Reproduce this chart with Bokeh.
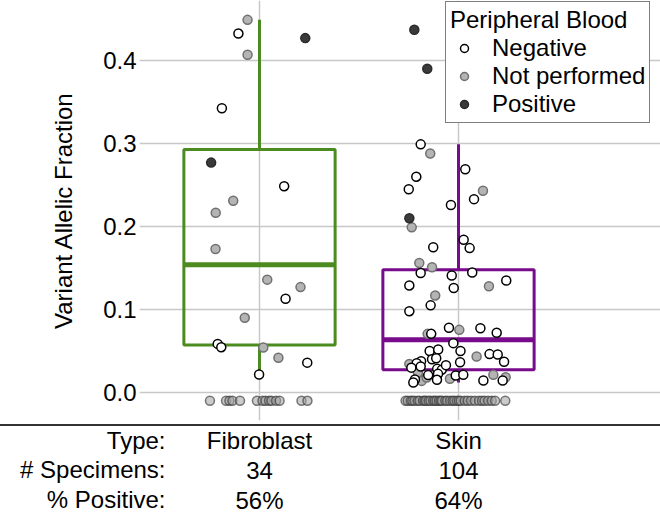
from bokeh.plotting import figure
from bokeh.models import (Range1d, FixedTicker, PrintfTickFormatter, Legend, LegendItem,
                          ColumnDataSource, Div)
from bokeh.layouts import column
from bokeh.embed import file_html
from bokeh.resources import INLINE
from bokeh.core.properties import value

# ---------------- data ----------------
categories = ["Fibroblast", "Skin"]
n_specimens = ["34", "104"]
pct_positive = ["56%", "64%"]
row_labels = ["Type:", "# Specimens:", "% Positive:"]
y_ticks = [0.0, 0.1, 0.2, 0.3, 0.4]

# box-plot statistics per category
box_q1 = [0.0574, 0.0273]
box_med = [0.154, 0.0635]
box_q3 = [0.2928, 0.148]
whisk_lo = [0.0217, 0.012]
whisk_hi = [0.449, 0.299]

zero_value = -0.01  # undetected specimens are drawn just below zero

# Fibroblast (category 0): jitter offset, VAF
fib_neg_off = [-0.106, -0.189, 0.124, 0.131, -0.210, -0.192, 0.240, -0.002]
fib_neg_vaf = [0.4325, 0.3425, 0.2486, 0.113, 0.0586, 0.0546, 0.036, 0.0217]
fib_np_off = [-0.060, -0.060, -0.132, -0.220, -0.221, 0.039, 0.206, -0.074, 0.019, 0.095]
fib_np_vaf = [0.449, 0.407, 0.231, 0.2165, 0.173, 0.136, 0.127, 0.090, 0.0542, 0.0418]
fib_pos_off = [0.230, -0.243]
fib_pos_vaf = [0.427, 0.277]
fib_zero_off = [-0.249, -0.168, -0.151, -0.136, -0.098, -0.013, 0.015, 0.030, 0.048,
                0.060, 0.083, 0.101, 0.211, 0.241]

# Skin (category 1)
skin_neg_off = [-0.190, 0.034, -0.212, -0.250, 0.078, -0.038, 0.026, 0.056, -0.127, -0.190,
                -0.034, 0.069, 0.240, -0.247, -0.024, -0.140, -0.247, -0.048, 0.110, 0.192,
                -0.137, -0.026, -0.145, -0.102, 0.010, 0.156, 0.197, 0.229, -0.133, -0.112,
                0.008, -0.188, -0.210, -0.237, -0.190, -0.107, -0.084, -0.103, -0.152, -0.014,
                0.024, -0.219, -0.227, -0.108, 0.125, 0.222, -0.063]
skin_neg_vaf = [0.299, 0.269, 0.260, 0.245, 0.233, 0.226, 0.184, 0.174, 0.175, 0.144,
                0.141, 0.1446, 0.135, 0.129, 0.126, 0.105, 0.098, 0.078, 0.0775, 0.072,
                0.0707, 0.0595, 0.050, 0.0518, 0.050, 0.0463, 0.0458, 0.037, 0.040, 0.0413,
                0.0365, 0.0377, 0.0353, 0.0300, 0.0313, 0.0285, 0.0273, 0.0225, 0.0210, 0.0205,
                0.0213, 0.0157, 0.012, 0.0153, 0.0145, 0.0145, 0.033]
skin_np_off = [-0.142, 0.123, -0.235, -0.197, -0.133, 0.153, -0.117, 0.004, -0.155, 0.091,
               -0.247, -0.043, -0.185, 0.175, 0.237, -0.160, -0.204]
skin_np_vaf = [0.288, 0.243, 0.199, 0.156, 0.151, 0.128, 0.117, 0.0755, 0.0707, 0.0435,
               0.0345, 0.0165, 0.0140, 0.0213, 0.0185, 0.0180, 0.0240]
skin_pos_off = [-0.222, -0.157, -0.247]
skin_pos_vaf = [0.437, 0.390, 0.210]
skin_zero_off = [-0.266, -0.255, -0.240, -0.232, -0.221, -0.205, -0.196, -0.178, -0.170,
                 -0.163, -0.150, -0.141, -0.127, -0.119, -0.110, -0.098, -0.090, -0.083,
                 -0.066, -0.057, -0.042, -0.030, -0.021, -0.008, 0.002, 0.011, 0.031,
                 0.046, 0.063, 0.082, 0.103, 0.118, 0.131, 0.149, 0.167, 0.184, 0.235]

# ---------------- styling / layout ----------------
FONT = "Liberation Sans"
FS = "24px"
box_colors = ["#4b8b1f", "#780a8c"]
box_width = 0.76

W = 660
TOP_H = 424
LINE_H = 2
BOT_H = 91
FRAME_L = 139       # left edge of the plotting frame
GRID_R = 578        # right end of the horizontal grid lines
BORDER_B = 4
X0, X1 = -0.603, 1.603          # span covered by the grid
Y0, Y1 = -0.0337, 0.4723
x_end = X0 + (W - FRAME_L) * (X1 - X0) / (GRID_R - FRAME_L)
xr = Range1d(X0, x_end)

p = figure(width=W, height=TOP_H, x_range=xr, y_range=Range1d(Y0, Y1),
           output_backend="svg", toolbar_location=None,
           min_border_left=FRAME_L, min_border_right=0,
           min_border_top=0, min_border_bottom=BORDER_B)
p.outline_line_color = None
p.xaxis.visible = False
p.xgrid.ticker = FixedTicker(ticks=list(range(len(categories))))
p.ygrid.ticker = FixedTicker(ticks=y_ticks)
p.ygrid.bounds = (X0, X1)
p.grid.grid_line_color = "#c8c8c8"
p.grid.grid_line_width = 1.5

ax = p.yaxis[0]
ax.ticker = FixedTicker(ticks=y_ticks)
ax.formatter = PrintfTickFormatter(format="%.1f")
ax.axis_line_color = None
ax.major_tick_line_color = None
ax.minor_tick_line_color = None
ax.major_tick_out = 0
ax.major_tick_in = 0
ax.major_label_standoff = 3
ax.major_label_text_font = FONT
ax.major_label_text_font_size = FS
ax.major_label_text_color = "black"
ax.axis_label = "Variant Allelic Fraction"
ax.axis_label_text_font = FONT
ax.axis_label_text_font_size = FS
ax.axis_label_text_font_style = "normal"
ax.axis_label_text_color = "black"
ax.axis_label_standoff = 23

# boxes
cat_x = list(range(len(categories)))
p.segment(x0=cat_x, y0=whisk_lo, x1=cat_x, y1=box_q1, line_color=box_colors, line_width=3)
p.segment(x0=cat_x, y0=box_q3, x1=cat_x, y1=whisk_hi, line_color=box_colors, line_width=3)
p.quad(left=[c - box_width / 2 for c in cat_x], right=[c + box_width / 2 for c in cat_x],
       bottom=box_q1, top=box_q3, fill_color=None, line_color=box_colors, line_width=3)
p.segment(x0=[c - box_width / 2 for c in cat_x], y0=box_med,
          x1=[c + box_width / 2 for c in cat_x], y1=box_med,
          line_color=box_colors, line_width=5)


def pts(fib_off, fib_vals, skin_off, skin_vals):
    xs = [0 + o for o in fib_off] + [1 + o for o in skin_off]
    return ColumnDataSource(dict(x=xs, y=list(fib_vals) + list(skin_vals)))


src_zero = pts(fib_zero_off, [zero_value] * len(fib_zero_off),
               skin_zero_off, [zero_value] * len(skin_zero_off))
src_np = pts(fib_np_off, fib_np_vaf, skin_np_off, skin_np_vaf)
src_pos = pts(fib_pos_off, fib_pos_vaf, skin_pos_off, skin_pos_vaf)
src_neg = pts(fib_neg_off, fib_neg_vaf, skin_neg_off, skin_neg_vaf)

SIZE = 9
p.scatter("x", "y", source=src_zero, size=SIZE, fill_color="#a0a0a0", fill_alpha=0.55,
          line_color="#383838", line_alpha=0.65, line_width=1.5)
r_np = p.scatter("x", "y", source=src_np, size=SIZE, fill_color="#b4b4b4",
                 line_color="#707070", line_width=1.5)
r_pos = p.scatter("x", "y", source=src_pos, size=SIZE, fill_color="#3a3a3a",
                  line_color="#2a2a2a", line_width=1.5)
r_neg = p.scatter("x", "y", source=src_neg, size=SIZE, fill_color="white",
                  line_color="black", line_width=1.5)

# legend: left edge at x=445, bottom edge near y=123 of the page
FRAME_B = TOP_H - BORDER_B
legend = Legend(items=[LegendItem(label="Negative", renderers=[r_neg]),
                       LegendItem(label="Not performed", renderers=[r_np]),
                       LegendItem(label="Positive", renderers=[r_pos])],
                title="Peripheral Blood", location=(445 - FRAME_L, FRAME_B - 123))
legend.title_text_font = FONT
legend.title_text_font_size = FS
legend.title_text_font_style = "normal"
legend.title_text_color = "black"
legend.title_standoff = 0
legend.label_text_font = FONT
legend.label_text_font_size = FS
legend.label_text_color = "black"
legend.label_height = 20
legend.glyph_height = 20
legend.glyph_width = 28
legend.label_standoff = 14
legend.padding = 4
legend.spacing = 0
legend.margin = 0
legend.border_line_color = "black"
legend.border_line_width = 1
legend.background_fill_color = "white"
legend.background_fill_alpha = 1
p.add_layout(legend)

# ---------------- rule line spanning the page ----------------
rule = Div(text="", width=W, height=LINE_H, margin=(0, 0, 0, 0),
           styles={"background-color": "#333333"})

# ---------------- table beneath the plot ----------------
row_ticks = [13.3, 43.3, 73.3]
text_y = [t + 0.5 for t in row_ticks]

pb = figure(width=W, height=BOT_H, x_range=xr, y_range=Range1d(BOT_H, 0),
            output_backend="svg", toolbar_location=None, x_axis_type=None,
            min_border_left=FRAME_L, min_border_right=0, min_border_top=0,
            min_border_bottom=0)
pb.outline_line_color = None
pb.ygrid.visible = False
bax = pb.yaxis[0]
bax.ticker = FixedTicker(ticks=row_ticks)
bax.major_label_overrides = {t: lab for t, lab in zip(row_ticks, row_labels)}
bax.axis_line_color = None
bax.major_tick_line_color = None
bax.minor_tick_line_color = None
bax.major_tick_out = 0
bax.major_tick_in = 0
bax.major_label_standoff = -26
bax.major_label_text_font = FONT
bax.major_label_text_font_size = FS
bax.major_label_text_color = "black"

rows = [categories, n_specimens, pct_positive]
tx, ty, tt = [], [], []
for i, row in enumerate(rows):
    for c, t in enumerate(row):
        tx.append(c)
        ty.append(text_y[i])
        tt.append(t)
pb.text(x=tx, y=ty, text=tt, text_align="center", text_baseline="middle",
        text_font=value(FONT), text_font_size=FS, text_color="black")

layout = column(p, rule, pb, spacing=0)
open("out.html", "w").write(file_html(layout, INLINE))
